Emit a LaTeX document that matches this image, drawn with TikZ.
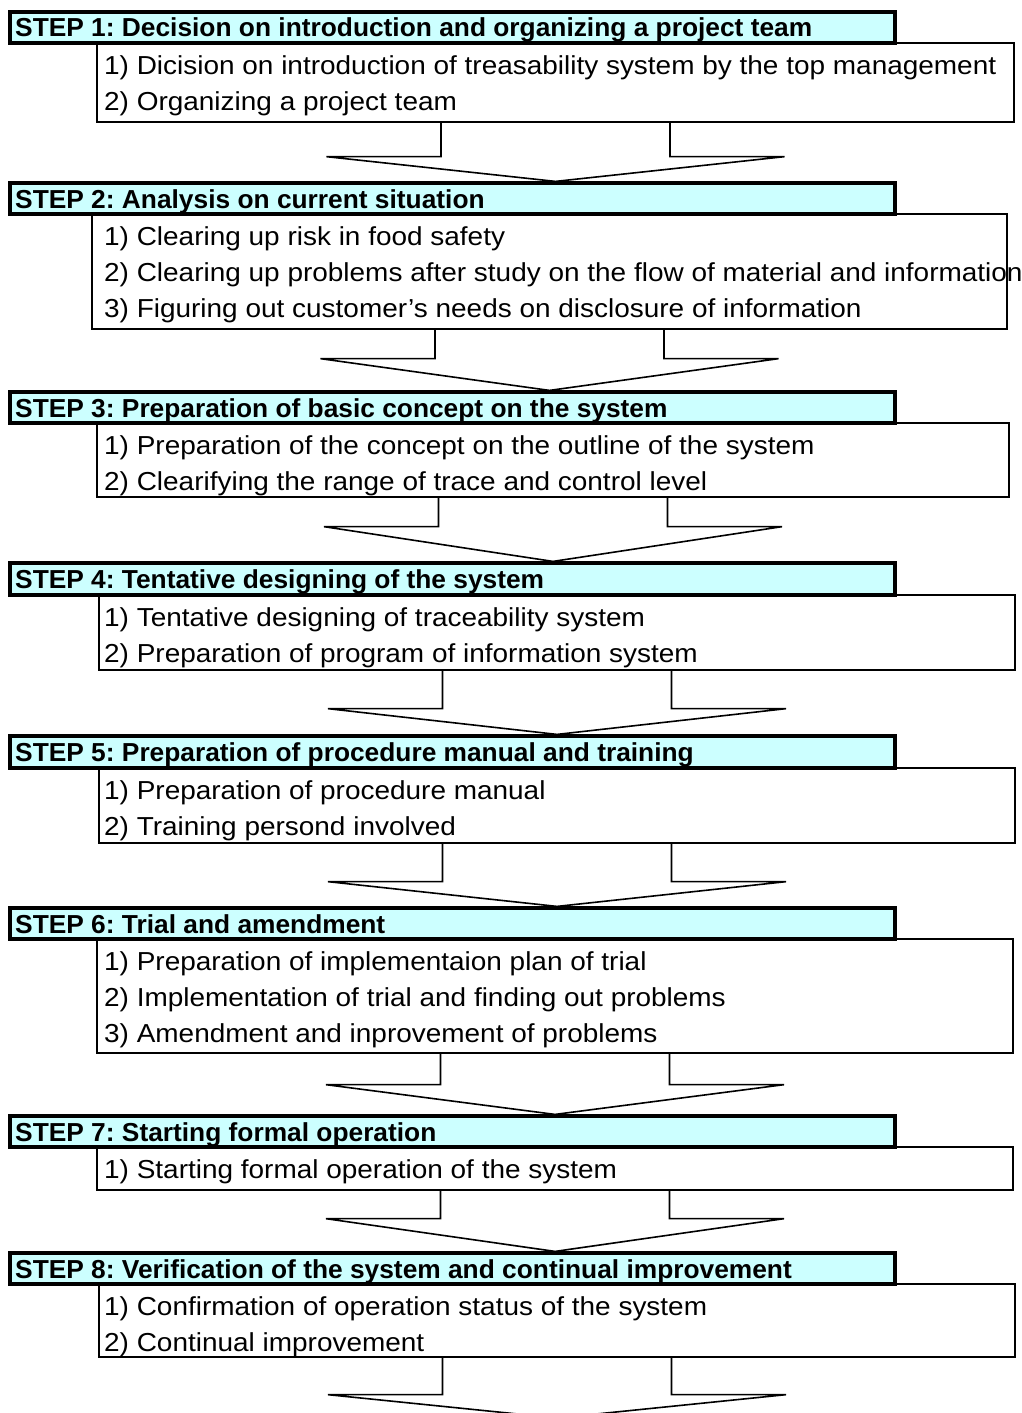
\documentclass[tikz,border=0pt]{standalone}
\usepackage{graphicx}
\usepackage{fontspec}
\setmainfont{Liberation Sans}
\frenchspacing
\usetikzlibrary{calc}
\definecolor{hfill}{HTML}{CCFFFF}
\newsavebox\measbox
\newcommand\dsize{\fontsize{26}{36}\selectfont}
\sbox\measbox{\dsize 1) Dicision on introduction of treasability system by the top management}
\pgfmathsetmacro\dscale{892/\the\wd\measbox}
\sbox\measbox{\dsize\bfseries STEP 1: Decision on introduction and organizing a project team}
\pgfmathsetmacro\hscale{797/\the\wd\measbox}
\newcommand\dl[1]{\scalebox{\dscale}[1]{\dsize #1}}
\newcommand\hl[1]{\scalebox{\hscale}[1]{\dsize\bfseries #1}}
\newcommand\flowarrow[3]{%
  \draw[arr] ($(#1.south)+(-114.5,0)$) -- ++(0,#3) -- ++(-114.5,0)
    -- (#1.south |- #2) -- ($(#1.south)+(229,#3)$) -- ++(-114.5,0) -- ++(0,-#3);}
\begin{document}
\begin{tikzpicture}[x=1pt,y=-1pt,
  hbox/.style={draw, line width=3.2pt, fill=hfill, minimum width=885pt, minimum height=31pt, inner sep=0pt},
  dbox/.style={draw, line width=1.3pt, fill=white, inner sep=0pt},
  arr/.style={line width=1.6pt, line join=miter},
  txt/.style={anchor=base west, inner sep=0pt}]
\fill[white] (0,0) rectangle (1022,1413);
\useasboundingbox (0,0) rectangle (1022,1413);
% detail boxes
\node[dbox, minimum width=917pt, minimum height=79pt]  (d1) at (555.5,82.5) {};
\node[dbox, minimum width=915pt, minimum height=115pt] (d2) at (549.5,271.5) {};
\node[dbox, minimum width=912pt, minimum height=74pt]  (d3) at (553,460) {};
\node[dbox, minimum width=916pt, minimum height=75pt]  (d4) at (557,632.5) {};
\node[dbox, minimum width=916pt, minimum height=75pt]  (d5) at (557,805.5) {};
\node[dbox, minimum width=916pt, minimum height=114pt] (d6) at (555,996) {};
\node[dbox, minimum width=916pt, minimum height=43pt]  (d7) at (555,1168.5) {};
\node[dbox, minimum width=916pt, minimum height=73pt]  (d8) at (557,1320.5) {};
% headers
\node[hbox] (h1) at (452.5,27.5) {};
\node[hbox] (h2) at (452.5,198.5) {};
\node[hbox] (h3) at (452.5,407.5) {};
\node[hbox, minimum height=32pt] (h4) at (452.5,579) {};
\node[hbox, minimum height=32pt] (h5) at (452.5,752) {};
\node[hbox] (h6) at (452.5,923.5) {};
\node[hbox] (h7) at (452.5,1131.5) {};
\node[hbox] (h8) at (452.5,1268.5) {};
\coordinate (end) at (557,1418);
% arrows
\flowarrow{d1}{h2.north}{34}
\flowarrow{d2}{h3.north}{29}
\flowarrow{d3}{h4.north}{29}
\flowarrow{d4}{h5.north}{38}
\flowarrow{d5}{h6.north}{38}
\flowarrow{d6}{h7.north}{31}
\flowarrow{d7}{h8.north}{28}
\flowarrow{d8}{end}{37}
% header texts
\node[txt] (t1) at (15,37)   {\hl{STEP 1: Decision on introduction and organizing a project team}};
\node[txt] (t2) at (15,208)  {\hl{STEP 2: Analysis on current situation}};
\node[txt] (t3) at (15,417)  {\hl{STEP 3: Preparation of basic concept on the system}};
\node[txt] (t4) at (15,588.5)    {\hl{STEP 4: Tentative designing of the system}};
\node[txt] (t5) at (15,761.5)    {\hl{STEP 5: Preparation of procedure manual and training}};
\node[txt] (t6) at (15,933)  {\hl{STEP 6: Trial and amendment}};
\node[txt] (t7) at (15,1141) {\hl{STEP 7: Starting formal operation}};
\node[txt] (t8) at (15,1278) {\hl{STEP 8: Verification of the system and continual improvement}};
% detail texts
\node[txt] (l1a) at (104,74.5)   {\dl{1) Dicision on introduction of treasability system by the top management}};
\node[txt] (l1b) at (104,110.5)  {\dl{2) Organizing a project team}};
\node[txt] (l2a) at (104,245.5)  {\dl{1) Clearing up risk in food safety}};
\node[txt] (l2b) at (104,281.5)  {\dl{2) Clearing up problems after study on the flow of material and information}};
\node[txt] (l2c) at (104,317.5)  {\dl{3) Figuring out customer’s needs on disclosure of information}};
\node[txt] (l3a) at (104,454.5)  {\dl{1) Preparation of the concept on the outline of the system}};
\node[txt] (l3b) at (104,490.5)  {\dl{2) Clearifying the range of trace and control level}};
\node[txt] (l4a) at (104,626.5)  {\dl{1) Tentative designing of traceability system}};
\node[txt] (l4b) at (104,662.5)  {\dl{2) Preparation of program of information system}};
\node[txt] (l5a) at (104,799.5)  {\dl{1) Preparation of procedure manual}};
\node[txt] (l5b) at (104,835.5)  {\dl{2) Training persond involved}};
\node[txt] (l6a) at (104,970.5)  {\dl{1) Preparation of implementaion plan of trial}};
\node[txt] (l6b) at (104,1006.5) {\dl{2) Implementation of trial and finding out problems}};
\node[txt] (l6c) at (104,1042.5) {\dl{3) Amendment and inprovement of problems}};
\node[txt] (l7a) at (104,1178.5) {\dl{1) Starting formal operation of the system}};
\node[txt] (l8a) at (104,1315.5) {\dl{1) Confirmation of operation status of the system}};
\node[txt] (l8b) at (104,1351.5) {\dl{2) Continual improvement}};
\end{tikzpicture}
\end{document}
